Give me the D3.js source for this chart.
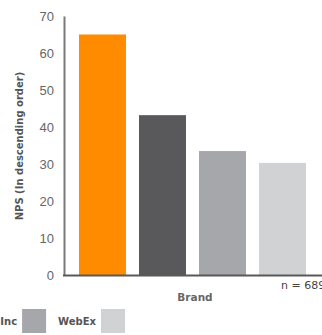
<!DOCTYPE html>
<html>
<head>
<meta charset="utf-8">
<script src="https://cdn.jsdelivr.net/npm/d3@7"></script>
<style>
  html, body { margin: 0; padding: 0; background: #fff; overflow: hidden; }
</style>
</head>
<body>
<svg id="chart" width="322" height="335"></svg>
<script>
const brands = ['Zoom', 'Skype', 'LogMeIn Inc', 'WebEx']
const nps = [65, 43.2, 33.5, 30.3]
const colors = ['#ff8c00', '#59595b', '#a6a7aa', '#d1d2d4']
const yTicks = [0, 10, 20, 30, 40, 50, 60, 70]
const sampleLabel = 'n = 689'

const labelFont = 'DejaVu Sans, Verdana, sans-serif'

const svg = d3.select('#chart')

const x = d3.scaleBand()
  .domain(brands)
  .range([65, 320])
  .paddingInner(0.217)
  .paddingOuter(0.233)

const y = d3.scaleLinear()
  .domain([0, 70])
  .range([275, 16])

// bars
svg.selectAll('rect.bar')
  .data(brands)
  .join('rect')
  .attr('class', 'bar')
  .attr('x', (d) => x(d))
  .attr('y', (d, i) => y(nps[i]))
  .attr('width', x.bandwidth())
  .attr('height', (d, i) => y(0) - y(nps[i]))
  .attr('fill', (d, i) => colors[i])

// y axis
const yAxis = svg.append('g')
  .attr('transform', 'translate(64,0)')
  .call(d3.axisLeft(y).tickValues(yTicks).tickSize(0).tickPadding(10))
yAxis.select('.domain').attr('stroke', '#7a7a7a').attr('stroke-width', 2)
yAxis.selectAll('text')
  .attr('fill', '#666')
  .attr('font-size', 13)
  .attr('font-family', 'Liberation Sans, Arial, sans-serif')

// x axis baseline
svg.append('line')
  .attr('x1', 63)
  .attr('x2', 322)
  .attr('y1', 275.5)
  .attr('y2', 275.5)
  .attr('stroke', '#59595b')
  .attr('stroke-width', 2)

// axis titles
svg.append('text')
  .attr('transform', 'translate(23,146) rotate(-90)')
  .attr('text-anchor', 'middle')
  .attr('fill', '#555')
  .attr('font-size', 10)
  .attr('font-weight', 'bold')
  .attr('font-family', labelFont)
  .text('NPS (In descending order)')

svg.append('text')
  .attr('x', 195)
  .attr('y', 301)
  .attr('text-anchor', 'middle')
  .attr('fill', '#666')
  .attr('font-size', 10.5)
  .attr('font-weight', 'bold')
  .attr('font-family', labelFont)
  .text('Brand')

svg.append('text')
  .attr('x', 281)
  .attr('y', 289)
  .attr('fill', '#444')
  .attr('font-size', 11)
  .attr('font-family', labelFont)
  .text(sampleLabel)

// legend, laid out right to left from the WebEx entry
const legend = svg.append('g')
let textStart = 57
for (let i = brands.length - 1; i >= 0; i--) {
  const swatchX = i === brands.length - 1 ? 101 : textStart - 12 - 24
  const t = legend.append('text')
    .attr('x', swatchX - 5)
    .attr('y', 325)
    .attr('text-anchor', 'end')
    .attr('fill', '#555')
    .attr('font-size', 10)
    .attr('font-weight', 'bold')
    .attr('font-family', labelFont)
    .text(brands[i])
  legend.append('rect')
    .attr('x', swatchX)
    .attr('y', 309)
    .attr('width', 24)
    .attr('height', 24)
    .attr('fill', colors[i])
  textStart = swatchX - 5 - t.node().getComputedTextLength()
}
</script>
</body>
</html>
